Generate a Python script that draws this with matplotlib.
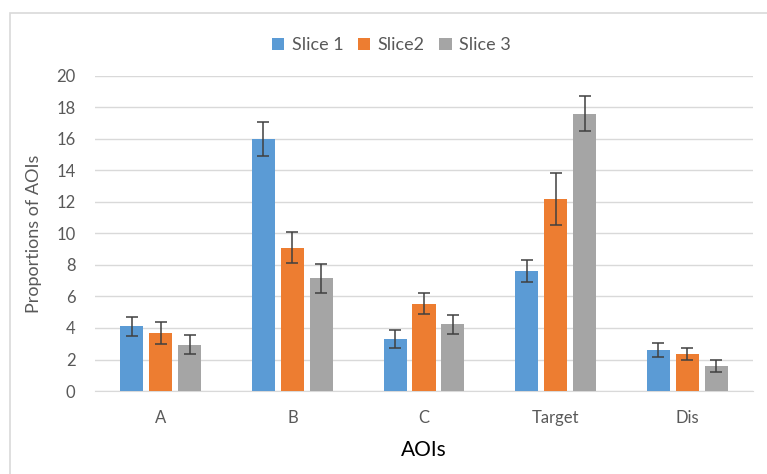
import matplotlib.pyplot as plt
import numpy as np

plt.rcParams['font.family'] = ['Lato', 'DejaVu Sans']

categories = ['A', 'B', 'C', 'Target', 'Dis']
series_names = ['Slice 1', 'Slice2', 'Slice 3']
slice1 = [4.1, 16.0, 3.3, 7.6, 2.6]
slice2 = [3.7, 9.1, 5.55, 12.2, 2.35]
slice3 = [2.95, 7.15, 4.25, 17.6, 1.6]
err1 = [0.6, 1.1, 0.6, 0.7, 0.45]
err2 = [0.7, 1.0, 0.65, 1.65, 0.4]
err3 = [0.6, 0.9, 0.6, 1.1, 0.4]
yticks = [0, 2, 4, 6, 8, 10, 12, 14, 16, 18, 20]

colors = ['#5B9BD5', '#ED7D31', '#A5A5A5']
text_color = '#595959'

fig = plt.figure(figsize=(7.67, 4.74), dpi=100)
# light border round the chart (right and bottom edges run off the image)
fig.patches.append(plt.Rectangle((0.0135, -0.01), 1.0, 0.983, transform=fig.transFigure,
                                 fill=False, edgecolor='#D9D9D9', linewidth=1.2))
ax = fig.add_axes([0.1239, 0.1751, 0.8578, 0.6646])

x = np.arange(len(categories))
width = 0.175
step = 0.22
for i, (vals, errs) in enumerate([(slice1, err1), (slice2, err2), (slice3, err3)]):
    ax.bar(x + (i - 1) * step, vals, width, color=colors[i], label=series_names[i],
           yerr=errs, capsize=4, zorder=3,
           error_kw=dict(ecolor='#404040', elinewidth=1.1, capthick=1.1))

ax.set_xlim(-0.5, len(categories) - 0.5)
ax.set_ylim(0, 20)
ax.set_yticks(yticks)
ax.set_xticks(x)
ax.set_xticklabels(categories)
ax.yaxis.grid(True, color='#D9D9D9', linewidth=1, zorder=0)
for s in ['top', 'right', 'left']:
    ax.spines[s].set_visible(False)
ax.spines['bottom'].set_color('#D9D9D9')
ax.tick_params(axis='both', length=0, labelsize=12, colors=text_color)
ax.tick_params(axis='x', pad=14)
ax.tick_params(axis='y', pad=14)

ax.set_ylabel('Proportions of AOIs', fontsize=13, color=text_color, labelpad=10)
ax.set_xlabel('AOIs', fontsize=15, color='#000000', labelpad=10)

ax.legend(loc='lower center', bbox_to_anchor=(0.45, 1.02), ncol=3, frameon=False,
          fontsize=13, labelcolor=text_color, handlelength=0.7, handleheight=0.7,
          handletextpad=0.4, columnspacing=0.8)

fig.savefig('out.png', dpi=100)
